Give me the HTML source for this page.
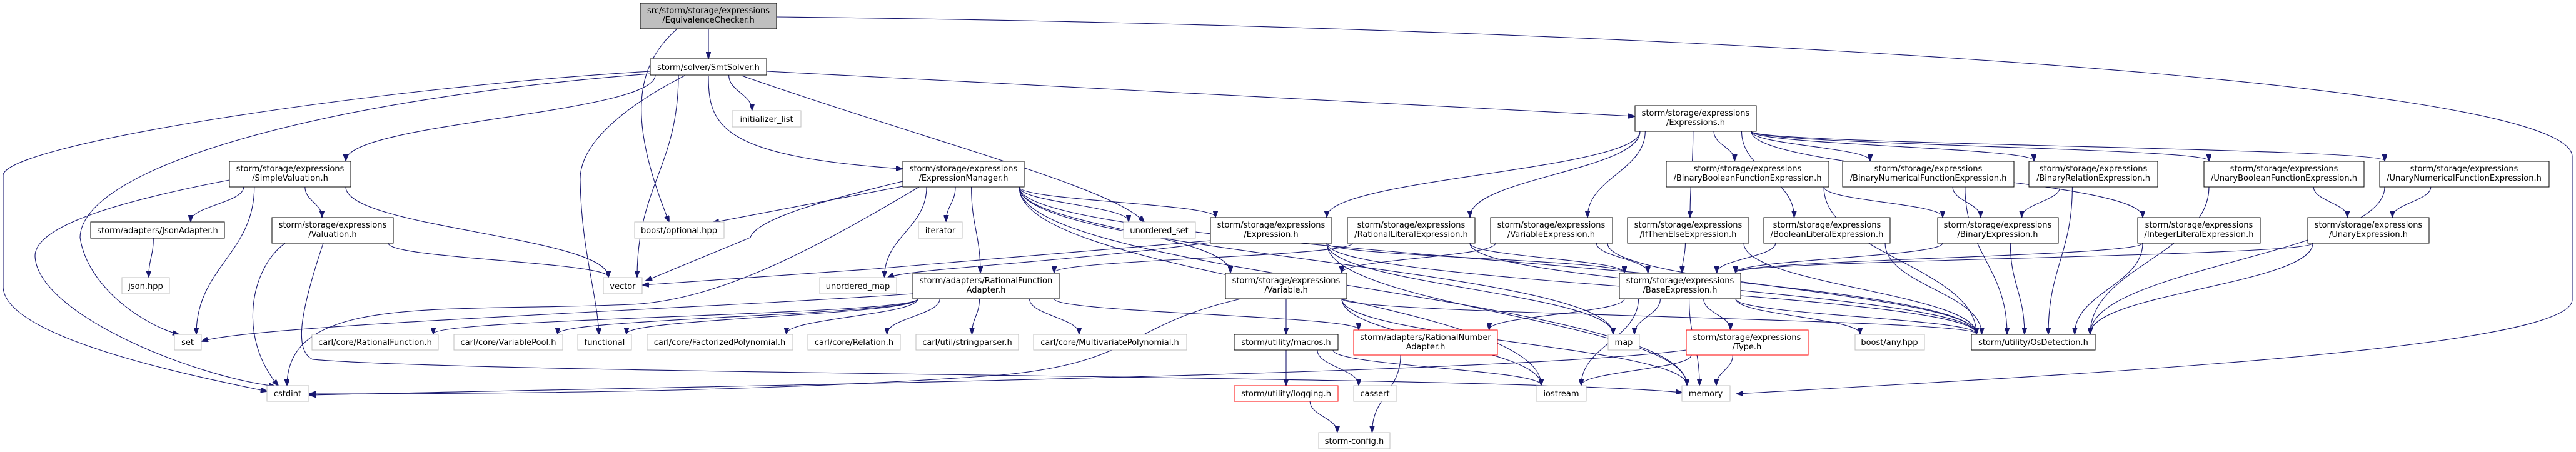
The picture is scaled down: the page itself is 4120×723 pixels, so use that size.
<!DOCTYPE html>
<html><head><meta charset="utf-8">
<style>
html,body{margin:0;padding:0;background:#fff;}
svg{display:block;}
text{font-family:"DejaVu Sans","Liberation Sans",sans-serif;font-size:13px;fill:#000;text-anchor:middle;}
</style></head>
<body>
<svg id="g" width="4120" height="723" viewBox="0 0 4120 723" xmlns="http://www.w3.org/2000/svg">
<defs>
<marker id="ah" markerWidth="11" markerHeight="8" refX="10" refY="4" orient="auto" markerUnits="userSpaceOnUse">
<path d="M0,0 L11,4 L0,8 z" fill="#191970" stroke="#191970"/>
</marker>
</defs>
<g id="edges" fill="none" stroke="#191970" stroke-width="1.1"></g>
<g id="nodes">
<rect x="1024" y="5" width="218" height="41" fill="#bfbfbf" stroke="#000"/>
<text x="1133" y="21">src/storm/storage/expressions</text><text x="1133" y="36">/EquivalenceChecker.h</text>

<rect x="1040" y="94" width="186" height="26" fill="#fff" stroke="#000"/><text x="1133" y="112">storm/solver/SmtSolver.h</text>

<rect x="1171" y="177" width="110" height="26" fill="#fff" stroke="#bfbfbf"/><text x="1226" y="195">initializer_list</text>

<rect x="2615" y="169" width="194" height="41" fill="#fff" stroke="#000"/><text x="2712" y="185">storm/storage/expressions</text><text x="2712" y="200">/Expressions.h</text>

<rect x="367" y="258" width="194" height="41" fill="#fff" stroke="#000"/><text x="464" y="274">storm/storage/expressions</text><text x="464" y="289">/SimpleValuation.h</text>
<rect x="1444" y="258" width="194" height="41" fill="#fff" stroke="#000"/><text x="1541" y="274">storm/storage/expressions</text><text x="1541" y="289">/ExpressionManager.h</text>
<rect x="2665" y="258" width="260" height="41" fill="#fff" stroke="#000"/><text x="2795" y="274">storm/storage/expressions</text><text x="2795" y="289">/BinaryBooleanFunctionExpression.h</text>
<rect x="2947" y="258" width="274" height="41" fill="#fff" stroke="#000"/><text x="3084" y="274">storm/storage/expressions</text><text x="3084" y="289">/BinaryNumericalFunctionExpression.h</text>
<rect x="3245" y="258" width="206" height="41" fill="#fff" stroke="#000"/><text x="3348" y="274">storm/storage/expressions</text><text x="3348" y="289">/BinaryRelationExpression.h</text>
<rect x="3525" y="258" width="256" height="41" fill="#fff" stroke="#000"/><text x="3653" y="274">storm/storage/expressions</text><text x="3653" y="289">/UnaryBooleanFunctionExpression.h</text>
<rect x="3806" y="258" width="271" height="41" fill="#fff" stroke="#000"/><text x="3941" y="274">storm/storage/expressions</text><text x="3941" y="289">/UnaryNumericalFunctionExpression.h</text>

<rect x="145" y="355" width="214" height="26" fill="#fff" stroke="#000"/><text x="252" y="373">storm/adapters/JsonAdapter.h</text>
<rect x="1015" y="355" width="143" height="26" fill="#fff" stroke="#bfbfbf"/><text x="1086" y="373">boost/optional.hpp</text>
<rect x="1469" y="355" width="70" height="26" fill="#fff" stroke="#bfbfbf"/><text x="1504" y="373">iterator</text>
<rect x="1797" y="355" width="115" height="26" fill="#fff" stroke="#bfbfbf"/><text x="1854" y="373">unordered_set</text>

<rect x="435" y="348" width="194" height="41" fill="#fff" stroke="#000"/><text x="532" y="364">storm/storage/expressions</text><text x="532" y="379">/Valuation.h</text>
<rect x="1936" y="348" width="194" height="41" fill="#fff" stroke="#000"/><text x="2033" y="364">storm/storage/expressions</text><text x="2033" y="379">/Expression.h</text>
<rect x="2155" y="348" width="204" height="41" fill="#fff" stroke="#000"/><text x="2257" y="364">storm/storage/expressions</text><text x="2257" y="379">/RationalLiteralExpression.h</text>
<rect x="2384" y="348" width="195" height="41" fill="#fff" stroke="#000"/><text x="2481" y="364">storm/storage/expressions</text><text x="2481" y="379">/VariableExpression.h</text>
<rect x="2603" y="348" width="194" height="41" fill="#fff" stroke="#000"/><text x="2700" y="364">storm/storage/expressions</text><text x="2700" y="379">/IfThenElseExpression.h</text>
<rect x="2821" y="348" width="202" height="41" fill="#fff" stroke="#000"/><text x="2922" y="364">storm/storage/expressions</text><text x="2922" y="379">/BooleanLiteralExpression.h</text>
<rect x="3099" y="348" width="193" height="41" fill="#fff" stroke="#000"/><text x="3195" y="364">storm/storage/expressions</text><text x="3195" y="379">/BinaryExpression.h</text>
<rect x="3419" y="348" width="196" height="41" fill="#fff" stroke="#000"/><text x="3517" y="364">storm/storage/expressions</text><text x="3517" y="379">/IntegerLiteralExpression.h</text>
<rect x="3691" y="348" width="194" height="41" fill="#fff" stroke="#000"/><text x="3788" y="364">storm/storage/expressions</text><text x="3788" y="379">/UnaryExpression.h</text>

<rect x="195" y="444" width="76" height="26" fill="#fff" stroke="#bfbfbf"/><text x="233" y="462">json.hpp</text>
<rect x="965" y="444" width="62" height="26" fill="#fff" stroke="#bfbfbf"/><text x="996" y="462">vector</text>
<rect x="1311" y="444" width="123" height="26" fill="#fff" stroke="#bfbfbf"/><text x="1372" y="462">unordered_map</text>

<rect x="1460" y="437" width="234" height="41" fill="#fff" stroke="#000"/><text x="1577" y="453">storm/adapters/RationalFunction</text><text x="1577" y="468">Adapter.h</text>
<rect x="1960" y="437" width="194" height="41" fill="#fff" stroke="#000"/><text x="2057" y="453">storm/storage/expressions</text><text x="2057" y="468">/Variable.h</text>
<rect x="2590" y="437" width="194" height="41" fill="#fff" stroke="#000"/><text x="2687" y="453">storm/storage/expressions</text><text x="2687" y="468">/BaseExpression.h</text>

<rect x="279" y="535" width="43" height="25" fill="#fff" stroke="#bfbfbf"/><text x="300" y="552">set</text>
<rect x="499" y="535" width="202" height="25" fill="#fff" stroke="#bfbfbf"/><text x="600" y="552">carl/core/RationalFunction.h</text>
<rect x="726" y="535" width="174" height="25" fill="#fff" stroke="#bfbfbf"/><text x="813" y="552">carl/core/VariablePool.h</text>
<rect x="924" y="535" width="86" height="25" fill="#fff" stroke="#bfbfbf"/><text x="967" y="552">functional</text>
<rect x="1035" y="535" width="233" height="25" fill="#fff" stroke="#bfbfbf"/><text x="1151" y="552">carl/core/FactorizedPolynomial.h</text>
<rect x="1292" y="535" width="148" height="25" fill="#fff" stroke="#bfbfbf"/><text x="1366" y="552">carl/core/Relation.h</text>
<rect x="1465" y="535" width="164" height="25" fill="#fff" stroke="#bfbfbf"/><text x="1547" y="552">carl/util/stringparser.h</text>
<rect x="1653" y="535" width="245" height="25" fill="#fff" stroke="#bfbfbf"/><text x="1775" y="552">carl/core/MultivariatePolynomial.h</text>
<rect x="1974" y="535" width="166" height="25" fill="#fff" stroke="#000"/><text x="2057" y="552">storm/utility/macros.h</text>
<rect x="2572" y="535" width="50" height="25" fill="#fff" stroke="#bfbfbf"/><text x="2597" y="552">map</text>
<rect x="2967" y="535" width="111" height="25" fill="#fff" stroke="#bfbfbf"/><text x="3022" y="552">boost/any.hpp</text>
<rect x="3153" y="535" width="198" height="25" fill="#fff" stroke="#000"/><text x="3252" y="552">storm/utility/OsDetection.h</text>

<rect x="2165" y="528" width="230" height="40" fill="#fff" stroke="#ff0000"/><text x="2280" y="544">storm/adapters/RationalNumber</text><text x="2280" y="559">Adapter.h</text>
<rect x="2697" y="528" width="195" height="40" fill="#fff" stroke="#ff0000"/><text x="2794" y="544">storm/storage/expressions</text><text x="2794" y="559">/Type.h</text>

<rect x="427" y="617" width="67" height="25" fill="#fff" stroke="#bfbfbf"/><text x="460" y="634">cstdint</text>
<rect x="1974" y="617" width="166" height="25" fill="#fff" stroke="#ff0000"/><text x="2057" y="634">storm/utility/logging.h</text>
<rect x="2165" y="617" width="69" height="25" fill="#fff" stroke="#bfbfbf"/><text x="2199" y="634">cassert</text>
<rect x="2457" y="617" width="80" height="25" fill="#fff" stroke="#bfbfbf"/><text x="2497" y="634">iostream</text>
<rect x="2690" y="617" width="77" height="25" fill="#fff" stroke="#bfbfbf"/><text x="2728" y="634">memory</text>

<rect x="2109" y="692" width="114" height="26" fill="#fff" stroke="#bfbfbf"/><text x="2166" y="710">storm-config.h</text>
</g>
</svg>
<script>
var N={
E:[1024,5,218,41],S:[1040,94,186,26],IL:[1171,177,110,26],X:[2615,169,194,41],
SV:[367,258,194,41],EM:[1444,258,194,41],BB:[2665,258,260,41],BN:[2947,258,274,41],BR:[3245,258,206,41],UB:[3525,258,256,41],UN:[3806,258,271,41],
JA:[145,355,214,26],OPT:[1015,355,143,26],IT:[1469,355,70,26],US:[1797,355,115,26],
VAL:[435,348,194,41],EX:[1936,348,194,41],RL:[2155,348,204,41],VE:[2384,348,195,41],ITE:[2603,348,194,41],BL:[2821,348,202,41],BE:[3099,348,193,41],IL2:[3419,348,196,41],UE:[3691,348,194,41],
JS:[195,444,76,26],VEC:[965,444,62,26],UM:[1311,444,123,26],
RFA:[1460,437,234,41],VAR:[1960,437,194,41],BASE:[2590,437,194,41],
SET:[279,535,43,25],RF:[499,535,202,25],VP:[726,535,174,25],FUN:[924,535,86,25],FP:[1035,535,233,25],REL:[1292,535,148,25],SP:[1465,535,164,25],MP:[1653,535,245,25],MAC:[1974,535,166,25],MAP:[2572,535,50,25],ANY:[2967,535,111,25],OS:[3153,535,198,25],
RNA:[2165,528,230,40],TYPE:[2697,528,195,40],
CST:[427,617,67,25],LOG:[1974,617,166,25],CAS:[2165,617,69,25],IOS:[2457,617,80,25],MEM:[2690,617,77,25],CFG:[2109,692,114,26]};
var E=[
['E','S'],['S','IL'],['S','SV'],['S','VEC'],
['SV','JA'],['SV','SET'],['SV','VAL'],['SV','VEC'],['JA','JS'],['VAL','VEC'],
['EM','IT'],['EM','RFA'],['EM','US'],['EM','EX'],['EM','VAR'],['EM','UM'],['EM','MEM'],['EM','IOS'],['EM','MAP'],['EM','OS'],
['X','EX'],['X','RL'],['X','VE'],['X','ITE'],['X','BB'],['X','BN'],['X','BR'],['X','UB'],['X','UN'],['X','BL'],['X','IL2'],
['EX','BASE'],['EX','MAP'],['EX','MEM'],['EX','OS'],['RL','BASE'],['RL','RFA'],['RL','OS'],['VE','VAR'],['VE','BASE'],['VE','OS'],['ITE','BASE'],['ITE','OS'],
['BB','BE'],['BB','OS'],['BN','BE'],['BN','OS'],['BR','BE'],['BR','OS'],['UB','UE'],['UB','OS'],['UN','UE'],['UN','OS'],
['BL','BASE'],['BL','OS'],['BE','BASE'],['BE','OS'],['IL2','BASE'],['IL2','OS'],['UE','BASE'],['UE','OS'],
['RFA','RF'],['RFA','VP'],['RFA','FUN'],['RFA','FP'],['RFA','REL'],['RFA','SP'],['RFA','MP'],['RFA','RNA'],
['VAR','MAC'],['VAR','MEM'],['VAR','IOS'],['VAR','OS'],
['BASE','MAP'],['BASE','RNA'],['BASE','TYPE'],['BASE','ANY'],['BASE','MEM'],['BASE','IOS'],['BASE','OS'],
['MAC','LOG'],['MAC','CAS'],['MAC','IOS'],['LOG','CFG'],['RNA','CFG'],['TYPE','IOS'],['TYPE','MEM']];
var custom=[
'M1242,27 C2500,40 4110,120 4114,250 L4114,480 C4110,560 3300,600 2778,630',
'M1040,114 C600,140 10,230 5,280 L5,460 C10,540 300,600 427,626',
'M1040,118 C500,160 130,270 128,380 C140,460 230,520 286,535',
'M1226,114 L2614,186',
'M1095,121 C1000,170 925,230 928,290 C930,400 955,470 958,535',
'M1133,121 C1133,200 1150,250 1443,270',
'M1186,121 C1500,230 1780,300 1830,355',
'M1083,46 C1010,110 1008,200 1070,355',
'M1470,299 C1300,400 1150,480 1010,487 C700,500 460,470 459,617',
'M1444,290 C1320,320 1210,350 1200,380 L1033,449',
'M1444,298 L1140,356',
'M1936,388 C1700,420 1450,430 1420,444',
'M1936,385 L1400,430 L1028,456',
'M1985,478 C1800,520 1820,580 1600,600 C1200,630 700,630 495,630',
'M2697,560 C2400,600 1000,620 495,632',
'M1460,470 C1100,495 400,520 323,546',
'M517,389 C480,500 470,560 500,575 C800,600 2400,600 2690,628',
'M456,389 C400,430 380,540 445,617',
'M367,288 C200,320 55,360 56,410 C60,500 300,600 440,618'
];
var g=document.getElementById('edges');
function add(d){var p=document.createElementNS('http://www.w3.org/2000/svg','path');p.setAttribute('d',d);p.setAttribute('marker-end','url(#ah)');g.appendChild(p);}
function cl(v,a,b){return Math.max(a,Math.min(b,v));}
E.forEach(function(e){var s=N[e[0]],t=N[e[1]];
var scx=s[0]+s[2]/2,tcx=t[0]+t[2]/2;
var sx=scx+cl((tcx-scx)*0.35,-s[2]/2+8,s[2]/2-8),sy=s[1]+s[3];
var tx=tcx+cl((scx-tcx)*0.25,-t[2]/2+8,t[2]/2-8),ty=t[1];
var dy=ty-sy;
add('M'+sx+','+sy+' C'+sx+','+(sy+dy*0.45)+' '+tx+','+(ty-dy*0.45)+' '+tx+','+(ty-1));});
custom.forEach(add);
</script>
</body></html>
